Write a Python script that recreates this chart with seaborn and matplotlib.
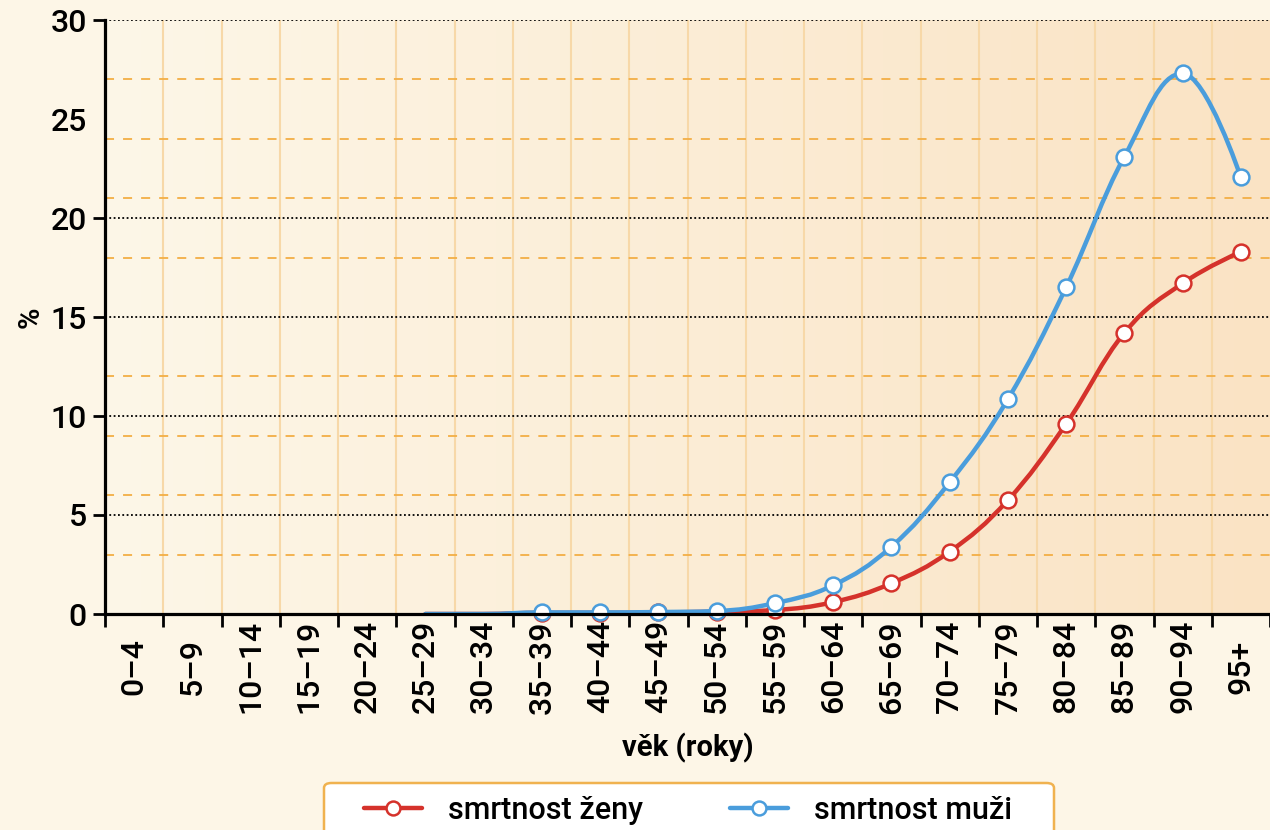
import numpy as np
import pandas as pd
import matplotlib
matplotlib.use("Agg")
import matplotlib.pyplot as plt
import seaborn as sns
from matplotlib.path import Path
from matplotlib.patches import PathPatch, FancyBboxPatch
from matplotlib.colors import LinearSegmentedColormap
from matplotlib.lines import Line2D

# ---------------- data ----------------
ages = ["0–4", "5–9", "10–14", "15–19", "20–24", "25–29", "30–34", "35–39",
        "40–44", "45–49", "50–54", "55–59", "60–64", "65–69", "70–74",
        "75–79", "80–84", "85–89", "90–94", "95+"]
nan = np.nan
smrtnost_zeny = [nan, nan, nan, nan, nan, 0.0, 0.0, 0.06, 0.06, 0.08, 0.12,
                 0.2, 0.6, 1.55, 3.15, 5.75, 9.6, 14.2, 16.7, 18.3]
smrtnost_muzi = [nan, nan, nan, nan, nan, 0.0, 0.0, 0.08, 0.08, 0.1, 0.15,
                 0.55, 1.45, 3.4, 6.65, 10.85, 16.5, 23.1, 27.3, 22.05]
series_names = ["smrtnost ženy", "smrtnost muži"]
y_ticks = [0, 5, 10, 15, 20, 25, 30]
x_title = "věk (roky)"
y_title = "%"

RED = "#D5322B"
BLUE = "#4A9DDC"
ORANGE = "#F3AE45"
VGRID = "#F7D8A8"

sns.set_theme(style="white")
plt.rcParams["font.family"] = ["Roboto", "DejaVu Sans"]
plt.rcParams["text.color"] = "black"
plt.rcParams["axes.labelcolor"] = "black"
plt.rcParams["xtick.color"] = "black"
plt.rcParams["ytick.color"] = "black"

W, H = 1270, 830
fig = plt.figure(figsize=(W / 100, H / 100), dpi=100, facecolor="#FDF6E7")
ax = fig.add_axes([105 / W, 1 - 614 / H, 1 - 105 / W, (614 - 20) / H])

n = len(ages)
xs_all = np.arange(n)
ax.set_xlim(-0.5, n - 0.5)
ax.set_ylim(0, 30)

# gradient background
cmap = LinearSegmentedColormap.from_list("bg", ["#FDF7E8", "#FAE3C4"])
grad = np.linspace(0, 1, 256).reshape(1, -1)
ax.imshow(grad, cmap=cmap, extent=[-0.5, n - 0.5, 0, 30], aspect="auto", zorder=0)

# vertical grid at category boundaries
for b in np.arange(-0.5, n - 0.5, 1.0)[1:]:
    ax.axvline(b, color=VGRID, lw=1.5, zorder=1)

# horizontal grid
for v in [3, 6, 9, 12, 18, 21, 24, 27]:
    ax.axhline(v, color=ORANGE, lw=1.3, ls=(0, (5, 5)), zorder=1)
for v in [5, 10, 15, 20, 30]:
    ax.axhline(v, color="black", lw=1.3, ls=(0, (1, 1.4)), zorder=1)


def spline_path(xs, ys, smoothing=1.5):
    m = len(xs)
    left = [None] * m
    right = [None] * m
    d = smoothing + 1
    for i in range(1, m - 1):
        px, py = xs[i], ys[i]
        lx, ly = xs[i - 1], ys[i - 1]
        nx, ny = xs[i + 1], ys[i + 1]
        lcx = (smoothing * px + lx) / d
        lcy = (smoothing * py + ly) / d
        rcx = (smoothing * px + nx) / d
        rcy = (smoothing * py + ny) / d
        corr = 0.0
        if rcx != lcx:
            corr = ((rcy - lcy) * (rcx - px)) / (rcx - lcx) + py - rcy
        lcy += corr
        rcy += corr
        if lcy > ly and lcy > py:
            lcy = max(ly, py); rcy = 2 * py - lcy
        elif lcy < ly and lcy < py:
            lcy = min(ly, py); rcy = 2 * py - lcy
        if rcy > ny and rcy > py:
            rcy = max(ny, py); lcy = 2 * py - rcy
        elif rcy < ny and rcy < py:
            rcy = min(ny, py); lcy = 2 * py - rcy
        left[i] = (lcx, lcy)
        right[i] = (rcx, rcy)
    verts = [(xs[0], ys[0])]
    codes = [Path.MOVETO]
    for i in range(1, m):
        c1 = right[i - 1] if right[i - 1] is not None else (xs[i - 1], ys[i - 1])
        c2 = left[i] if left[i] is not None else (xs[i], ys[i])
        verts += [c1, c2, (xs[i], ys[i])]
        codes += [Path.CURVE4] * 3
    return Path(verts, codes)


df = pd.DataFrame({"age": ages, "x": xs_all,
                   series_names[0]: smrtnost_zeny,
                   series_names[1]: smrtnost_muzi})

z = 3
for name, col in zip(series_names, [RED, BLUE]):
    sub = df[["x", name]].dropna()
    path = spline_path(sub["x"].to_numpy(float), sub[name].to_numpy(float))
    ax.add_patch(PathPatch(path, facecolor="none", edgecolor=col, lw=3.2,
                           capstyle="round", joinstyle="round", zorder=z))
    mk = sub[sub[name] > 0]
    sns.scatterplot(x=mk["x"], y=mk[name], ax=ax, s=130, color="white",
                    edgecolor=col, linewidth=1.8, zorder=z + 1, legend=False,
                    clip_on=False)
    z += 2

# axes styling
for s in ["top", "right"]:
    ax.spines[s].set_visible(False)
for s in ["left", "bottom"]:
    ax.spines[s].set_color("black")
    ax.spines[s].set_linewidth(2.3)
    ax.spines[s].set_zorder(10)

ax.set_yticks(y_ticks)
ax.set_yticklabels([str(t) for t in y_ticks], fontsize=23, fontweight="medium")
ax.tick_params(axis="y", length=9, width=2, color="black", pad=4, left=True)
for t in ax.yaxis.get_major_ticks():
    if abs(t.get_loc() - 25) < 1e-9:
        t.tick1line.set_visible(False)

ax.set_xticks(np.arange(-0.5, n - 0.5 + 0.01, 1.0))
ax.set_xticklabels([])
ax.tick_params(axis="x", which="major", length=9, width=2, color="black", bottom=True)
ax.set_xticks(xs_all, minor=True)
ax.set_xticklabels(ages, minor=True, rotation=90, fontsize=23, fontweight="medium")
ax.tick_params(axis="x", which="minor", length=0, pad=38)
for lab in ax.get_xticklabels(minor=True):
    lab.set_verticalalignment("center")

ax.set_xlabel(x_title, fontsize=21, fontweight="bold", labelpad=14)
ax.set_ylabel(y_title, fontsize=21, fontweight="bold", labelpad=4)
ax.grid(False)

# legend box
box = FancyBboxPatch((324 / W, -0.05), (1054 - 324) / W, (1 - 783 / H) + 0.05,
                     boxstyle="round,pad=0,rounding_size=0.006",
                     transform=fig.transFigure, facecolor="white",
                     edgecolor="#F0B24F", lw=1.8, zorder=5)
fig.patches.append(box)

handles = [Line2D([0], [0], color=c, lw=3.2, marker="o", markersize=10,
                  markerfacecolor="white", markeredgecolor=c, markeredgewidth=1.8)
           for c in [RED, BLUE]]
leg = fig.legend(handles, series_names, loc="center",
                 bbox_to_anchor=(688 / W, 1 - 810 / H), ncol=2, frameon=False,
                 prop={"size": 22, "weight": "medium"},
                 handlelength=1.9, handletextpad=0.85,
                 columnspacing=2.85, borderpad=0.0, borderaxespad=0)
leg.set_zorder(6)

fig.savefig("out.png", dpi=100, facecolor=fig.get_facecolor())
